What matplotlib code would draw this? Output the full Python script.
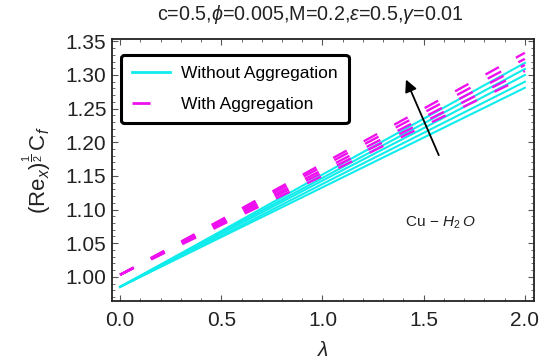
import matplotlib

matplotlib.use("Agg")
import matplotlib.pyplot as plt
from matplotlib.lines import Line2D
from matplotlib.ticker import MultipleLocator, FormatStrFormatter

plt.rcParams["font.family"] = ["Liberation Sans", "DejaVu Sans"]
plt.rcParams["mathtext.fontset"] = "custom"
plt.rcParams["mathtext.rm"] = "Liberation Sans"
plt.rcParams["mathtext.it"] = "Liberation Sans:italic"
plt.rcParams["mathtext.bf"] = "Liberation Sans:bold"
plt.rcParams["lines.scale_dashes"] = False

lam = [0.0, 0.5, 1.0, 1.5, 2.0]

# without aggregation (cyan), top to bottom
cf_without = [
    [0.985, 1.068, 1.152, 1.235, 1.318],
    [0.985, 1.066, 1.147, 1.228, 1.309],
    [0.985, 1.064, 1.143, 1.221, 1.300],
    [0.985, 1.061, 1.138, 1.214, 1.290],
    [0.985, 1.059, 1.133, 1.207, 1.281],
]

# with aggregation (magenta, dashed), top to bottom
cf_with = [
    [1.003, 1.085, 1.168, 1.250, 1.333],
    [1.003, 1.083, 1.164, 1.244, 1.324],
    [1.003, 1.081, 1.159, 1.237, 1.315],
    [1.003, 1.079, 1.155, 1.230, 1.306],
    [1.003, 1.077, 1.150, 1.224, 1.297],
]

yticks = [1.00, 1.05, 1.10, 1.15, 1.20, 1.25, 1.30, 1.35]
xticks = [0.0, 0.5, 1.0, 1.5, 2.0]

cyan = "#10ecec"
magenta = "#ee10ee"

fig = plt.figure(figsize=(5.41, 3.63), dpi=100)
ax = fig.add_axes([112 / 541, 1 - 301 / 363, 422 / 541, 262 / 363])

for ys in cf_without:
    ax.plot(lam, ys, color=cyan, lw=1.5, zorder=2)

for ys in cf_with:
    ax.plot(lam, ys, color=magenta, lw=1.7, dashes=(11, 14),
            dash_capstyle="butt", zorder=3)

ax.set_xlim(-0.04, 2.045)
ax.set_ylim(0.964, 1.3535)
ax.set_xticks(xticks)
ax.set_yticks(yticks)
ax.xaxis.set_major_formatter(FormatStrFormatter("%.1f"))
ax.yaxis.set_major_formatter(FormatStrFormatter("%.2f"))
ax.xaxis.set_minor_locator(MultipleLocator(0.1))
ax.yaxis.set_minor_locator(MultipleLocator(0.01))
ax.tick_params(which="both", direction="in", top=True, right=True,
               color="#555555", labelcolor="#222222", labelsize=15)
ax.tick_params(axis="x", pad=7)
ax.tick_params(axis="y", pad=4)
ax.tick_params(which="major", length=4, width=0.8)
ax.tick_params(which="minor", length=2, width=0.6)
for s in ax.spines.values():
    s.set_linewidth(1.3)
    s.set_color("#222222")

fig.text(310 / 541, 1 - 15 / 363,
         r"c=0.5,$\phi$=0.005,M=0.2,$\varepsilon$=0.5,$\gamma$=0.01",
         fontsize=14.2, color="#222222", ha="center", va="center")
ax.set_xlabel(r"$\lambda$", fontsize=15, color="#222222", labelpad=8)
ax.set_ylabel(r"$(\mathrm{Re}_x)^{\frac{1}{2}}\,\mathrm{C}_f$", fontsize=16,
              color="#222222", labelpad=8)

handles = [
    Line2D([], [], color=cyan, lw=2),
    Line2D([], [], color=magenta, lw=2, dashes=(13, 40), dash_capstyle="butt"),
]
leg = ax.legend(handles, ["Without Aggregation", "With Aggregation"],
                loc="upper left", bbox_to_anchor=(0.021, 0.939), fontsize=12.5,
                frameon=True, fancybox=True, handlelength=2.2, labelspacing=0.9,
                borderpad=0.65, handletextpad=0.6, borderaxespad=0)
leg.get_frame().set_edgecolor("black")
leg.get_frame().set_linewidth(2.2)
leg.get_frame().set_alpha(1)

ax.annotate("", xy=(1.407, 1.297), xytext=(1.58, 1.177),
            arrowprops=dict(arrowstyle="-|>", color="black", lw=1.3,
                            mutation_scale=18))
ax.text(1.58, 1.08, r"Cu$\,-\,H_2\,O$", fontsize=11, color="#222222",
        ha="center", va="center")

fig.savefig("out.png", dpi=100)
